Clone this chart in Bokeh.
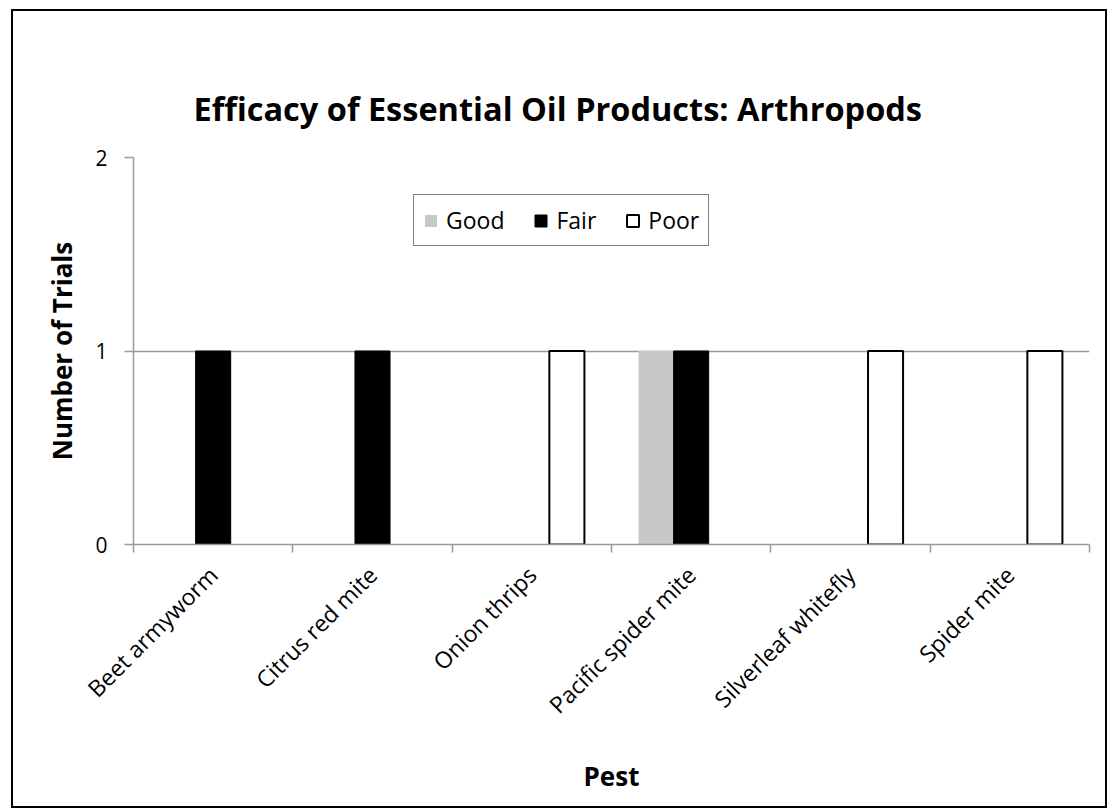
from bokeh.plotting import figure
from bokeh.models import ColumnDataSource, Range1d, FixedTicker, Legend, LegendItem
from bokeh.embed import file_html
from bokeh.resources import INLINE

categories = ["Beet armyworm", "Citrus red mite", "Onion thrips",
              "Pacific spider mite", "Silverleaf whitefly", "Spider mite"]
good = [0, 0, 0, 1, 0, 0]
fair = [1, 1, 0, 1, 0, 0]
poor = [0, 0, 1, 0, 1, 1]
y_ticks = [0, 1, 2]

FONT = "Open Sans"
BAR_W = 0.22

p = figure(width=1096, height=799, output_backend="svg", toolbar_location=None,
           x_range=Range1d(0, len(categories)), y_range=Range1d(0, 2),
           min_border_left=120, min_border_right=20, min_border_top=146,
           min_border_bottom=266)
p.styles = {"border": "2px solid black", "margin-left": "11px", "margin-top": "9px"}

def src(vals, offset):
    xs = [i + 0.5 + offset for i, v in enumerate(vals) if v > 0]
    ts = [v for v in vals if v > 0]
    return ColumnDataSource(dict(x=xs, top=ts))

r_good = p.vbar(x="x", top="top", width=BAR_W, source=src(good, -BAR_W),
                fill_color="#c8c8c8", line_color=None)
r_fair = p.vbar(x="x", top="top", width=BAR_W, source=src(fair, 0),
                fill_color="black", line_color="black", line_width=1)
r_poor = p.vbar(x="x", top="top", width=BAR_W, source=src(poor, BAR_W),
                fill_color="white", line_color="black", line_width=2)

legend = Legend(items=[LegendItem(label="Good", renderers=[r_good]),
                       LegendItem(label="Fair", renderers=[r_fair]),
                       LegendItem(label="Poor", renderers=[r_poor])],
                orientation="horizontal", location=(280, 298))
legend.label_text_font = FONT
legend.label_text_font_size = "23px"
legend.label_text_color = "black"
legend.glyph_width = 15
legend.glyph_height = 15
legend.label_standoff = 8
legend.spacing = 29
legend.padding = 9
legend.margin = 0
legend.border_line_color = "black"
legend.border_line_width = 1.5
legend.background_fill_alpha = 1
p.add_layout(legend, "center")

p.title.text = "Efficacy of Essential Oil Products: Arthropods"
p.title.text_font = FONT
p.title.text_font_size = "32.5px"
p.title.text_font_style = "bold"
p.title.text_color = "black"
p.title.align = "left"
p.title.offset = 60
p.title.standoff = 54

GRAY = "#9a9a9a"
# y axis
p.yaxis.ticker = FixedTicker(ticks=y_ticks, minor_ticks=[])
p.yaxis.axis_line_color = GRAY
p.yaxis.axis_line_width = 1.5
p.yaxis.major_tick_line_color = GRAY
p.yaxis.major_tick_line_width = 1.5
p.yaxis.major_tick_out = 9
p.yaxis.major_tick_in = 0
p.yaxis.major_label_text_font = FONT
p.yaxis.major_label_text_font_size = "21px"
p.yaxis.major_label_text_color = "black"
p.yaxis.major_label_standoff = 17
p.yaxis.axis_label = "Number of Trials"
p.yaxis.axis_label_text_font = FONT
p.yaxis.axis_label_text_font_size = "26px"
p.yaxis.axis_label_text_font_style = "bold"
p.yaxis.axis_label_text_color = "black"
p.yaxis.axis_label_standoff = 12

# x axis
p.xaxis.ticker = FixedTicker(ticks=[i + 0.5 for i in range(len(categories))],
                             minor_ticks=list(range(len(categories) + 1)))
p.xaxis.major_label_overrides = {i + 0.5: c for i, c in enumerate(categories)}
p.xaxis.major_label_orientation = 0.785398
p.xaxis.axis_line_color = GRAY
p.xaxis.axis_line_width = 1.5
p.xaxis.major_tick_line_color = None
p.xaxis.minor_tick_line_color = GRAY
p.xaxis.minor_tick_line_width = 1.5
p.xaxis.minor_tick_out = 8
p.xaxis.minor_tick_in = 0
p.xaxis.major_tick_out = 8
p.xaxis.major_label_text_font = FONT
p.xaxis.major_label_text_font_size = "23px"
p.xaxis.major_label_text_color = "black"
p.xaxis.major_label_standoff = 18
p.xaxis.axis_label = "Pest"
p.xaxis.axis_label_text_font = FONT
p.xaxis.axis_label_text_font_size = "26px"
p.xaxis.axis_label_text_font_style = "bold"
p.xaxis.axis_label_text_color = "black"
p.xaxis.axis_label_standoff = 24

p.xgrid.grid_line_color = None
p.ygrid.ticker = FixedTicker(ticks=y_ticks)
p.ygrid.grid_line_color = GRAY
p.ygrid.grid_line_width = 1.5
p.outline_line_color = None

open("out.html", "w").write(file_html(p, INLINE))
